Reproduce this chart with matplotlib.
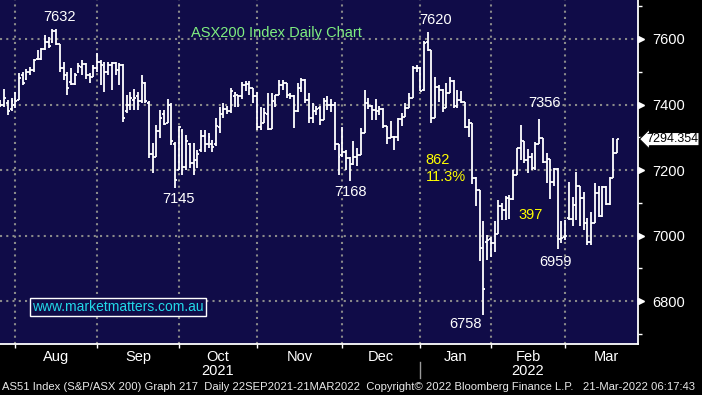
import matplotlib
matplotlib.use('Agg')
import matplotlib.pyplot as plt
from matplotlib import transforms

plt.rcParams['font.family'] = ['Liberation Sans', 'DejaVu Sans']

# daily OHLC, ASX200
opens = [7410, 7400, 7405, 7385, 7400, 7414, 7490, 7478, 7500, 7505,
         7540, 7540, 7570, 7590, 7590, 7625, 7585, 7510, 7490, 7470,
         7462, 7500, 7515, 7525, 7490, 7485, 7510, 7530, 7515, 7500,
         7520, 7527, 7505, 7520, 7380, 7400, 7415, 7425, 7410, 7465,
         7405, 7250, 7240, 7320, 7370, 7345, 7400, 7280, 7200, 7320,
         7210, 7280, 7220, 7230, 7260, 7305, 7280, 7280, 7280, 7330,
         7370, 7385, 7380, 7425, 7430, 7425, 7460, 7462, 7450, 7425,
         7330, 7345, 7370, 7325, 7405, 7430, 7460, 7465, 7430, 7425,
         7380, 7450, 7475, 7415, 7360, 7380, 7390, 7353, 7411, 7400,
         7399, 7280, 7245, 7256, 7238, 7219, 7241, 7246, 7312, 7406,
         7395, 7383, 7381, 7385, 7335, 7297, 7300, 7300, 7355, 7363,
         7389, 7420, 7511, 7511, 7444, 7590, 7566, 7358, 7453, 7444,
         7388, 7436, 7473, 7396, 7414, 7409, 7330, 7343, 7175, 7139,
         6961, 6980, 6990, 6977, 7005, 7089, 7078, 7114, 7111, 7185,
         7266, 7290, 7230, 7241, 7205, 7280, 7297, 7225, 7233, 7162,
         7202, 6990, 6995, 7055, 7050, 7094, 7150, 7115, 7038, 6980,
         7038, 7130, 7060, 7148, 7097, 7175, 7251]
highs = [7414, 7447, 7414, 7420, 7438, 7496, 7500, 7508, 7515, 7540,
         7566, 7572, 7612, 7606, 7632, 7630, 7585, 7530, 7500, 7512,
         7496, 7527, 7536, 7527, 7496, 7520, 7557, 7536, 7530, 7530,
         7530, 7530, 7527, 7525, 7430, 7438, 7447, 7438, 7490, 7470,
         7410, 7283, 7338, 7383, 7383, 7417, 7405, 7285, 7335, 7325,
         7307, 7283, 7283, 7262, 7322, 7322, 7313, 7292, 7360, 7393,
         7405, 7395, 7450, 7438, 7430, 7470, 7472, 7472, 7450, 7438,
         7393, 7390, 7435, 7435, 7430, 7475, 7475, 7466, 7435, 7430,
         7466, 7480, 7478, 7435, 7405, 7396, 7396, 7419, 7426, 7416,
         7409, 7280, 7331, 7261, 7241, 7289, 7268, 7328, 7444, 7421,
         7399, 7416, 7394, 7388, 7335, 7351, 7304, 7358, 7373, 7404,
         7436, 7518, 7521, 7514, 7595, 7620, 7566, 7483, 7460, 7446,
         7467, 7485, 7475, 7444, 7442, 7409, 7355, 7343, 7178, 7139,
         7043, 7002, 6997, 7043, 7109, 7099, 7121, 7124, 7200, 7266,
         7338, 7290, 7263, 7251, 7285, 7356, 7297, 7251, 7233, 7205,
         7205, 7043, 7048, 7162, 7119, 7195, 7152, 7134, 7053, 7073,
         7160, 7152, 7150, 7150, 7180, 7297, 7296]
lows = [7393, 7393, 7368, 7380, 7390, 7414, 7460, 7475, 7490, 7500,
        7536, 7536, 7566, 7572, 7588, 7582, 7500, 7475, 7430, 7460,
        7460, 7496, 7490, 7478, 7466, 7484, 7500, 7460, 7438, 7490,
        7445, 7490, 7460, 7347, 7374, 7383, 7383, 7383, 7405, 7405,
        7237, 7191, 7240, 7298, 7338, 7344, 7277, 7145, 7200, 7185,
        7200, 7206, 7185, 7206, 7255, 7255, 7268, 7255, 7274, 7313,
        7360, 7372, 7374, 7393, 7393, 7417, 7440, 7430, 7405, 7322,
        7322, 7344, 7322, 7325, 7393, 7430, 7444, 7420, 7417, 7328,
        7378, 7438, 7405, 7344, 7344, 7368, 7338, 7353, 7383, 7378,
        7261, 7185, 7241, 7200, 7168, 7214, 7211, 7246, 7312, 7386,
        7353, 7353, 7368, 7328, 7279, 7297, 7261, 7290, 7335, 7363,
        7389, 7420, 7500, 7442, 7442, 7564, 7343, 7358, 7409, 7378,
        7388, 7434, 7388, 7388, 7404, 7327, 7300, 7158, 7089, 6921,
        6758, 6926, 6936, 6951, 7005, 7048, 7046, 7050, 7109, 7185,
        7230, 7221, 7190, 7200, 7200, 7278, 7221, 7160, 7111, 7150,
        6959, 6977, 6987, 7048, 7028, 7048, 7028, 7017, 6972, 6972,
        7038, 7058, 7058, 7094, 7094, 7175, 7251]
closes = [7400, 7420, 7380, 7410, 7412, 7480, 7465, 7500, 7505, 7535,
          7540, 7570, 7590, 7580, 7625, 7585, 7510, 7490, 7450, 7462,
          7490, 7518, 7525, 7490, 7485, 7510, 7530, 7520, 7500, 7520,
          7527, 7505, 7520, 7360, 7400, 7420, 7420, 7410, 7470, 7410,
          7250, 7240, 7320, 7360, 7340, 7400, 7290, 7170, 7330, 7210,
          7290, 7220, 7230, 7250, 7305, 7280, 7300, 7270, 7335, 7370,
          7385, 7380, 7440, 7435, 7425, 7460, 7462, 7450, 7425, 7330,
          7325, 7375, 7325, 7410, 7428, 7460, 7465, 7430, 7425, 7380,
          7450, 7475, 7415, 7360, 7380, 7385, 7353, 7411, 7400, 7399,
          7280, 7241, 7256, 7238, 7219, 7241, 7246, 7312, 7406, 7395,
          7383, 7381, 7385, 7335, 7297, 7300, 7300, 7355, 7363, 7389,
          7420, 7511, 7511, 7442, 7588, 7566, 7358, 7453, 7444, 7388,
          7436, 7473, 7396, 7414, 7409, 7330, 7343, 7175, 7139, 6961,
          6836, 6987, 6977, 7005, 7089, 7078, 7114, 7111, 7185, 7266,
          7292, 7230, 7241, 7205, 7280, 7297, 7225, 7233, 7162, 7202,
          6990, 6992, 7000, 7050, 7094, 7150, 7115, 7038, 6980, 7038,
          7130, 7060, 7148, 7097, 7175, 7251, 7294.354]

# bar index where each month starts
month_start = [4, 26, 48, 69, 92, 113, 132, 152]
month_names = ['Aug', 'Sep', 'Oct', 'Nov', 'Dec', 'Jan', 'Feb', 'Mar']
yticks = [6800, 7000, 7200, 7400, 7600]
last_price = 7294.354

navy = '#100c48'
fig = plt.figure(figsize=(7.02, 3.95), dpi=100, facecolor='black')
ax = fig.add_axes([0, 51 / 395, 638 / 702, 344 / 395])
ax.set_facecolor(navy)

x = list(range(len(opens)))
# grid first
for m in month_start:
    ax.axvline(m, color='#8a8a8a', lw=1.5, ls=(0, (1, 2.0)), zorder=1)
for t in yticks:
    ax.axhline(t, color='#8a8a8a', lw=1.5, ls=(0, (1, 2.0)), zorder=1)

# OHLC bars
w = 0.5
ax.vlines(x, lows, highs, color='white', lw=1.3, zorder=3)
ax.hlines(opens, [i - w for i in x], x, color='white', lw=1.3, zorder=3)
ax.hlines(closes, x, [i + w for i in x], color='white', lw=1.3, zorder=3)

ax.set_xlim(-0.12, 171.6)
ax.set_ylim(6669, 7719)

for s in ['left', 'top']:
    ax.spines[s].set_visible(False)
ax.spines['right'].set_color('white')
ax.spines['bottom'].set_color('white')
ax.spines['right'].set_linewidth(1.3)
ax.spines['bottom'].set_linewidth(1.3)

# y axis on the right
ax.yaxis.tick_right()
ax.set_yticks(yticks)
ax.set_yticklabels([str(t) for t in yticks])
ax.set_yticks([6700, 6900, 7100, 7300, 7500, 7700], minor=True)
ax.tick_params(axis='y', which='major', length=0, pad=10, labelsize=10.5,
               labelcolor='white')
ax.tick_params(axis='y', which='minor', length=3, width=1, color='white')
tr = transforms.blended_transform_factory(ax.transAxes, ax.transData)
ax.plot([1.004] * len(yticks), yticks, ls='none', marker='>', ms=5,
        color='white', transform=tr, clip_on=False, zorder=5)

# x axis, month labels between month starts
ax.set_xticks(month_start)
ax.set_xticklabels([])
mids = []
for i in range(len(month_start)):
    if i + 1 < len(month_start):
        mids.append((month_start[i] + month_start[i + 1]) / 2)
    else:
        mids.append(month_start[i] + 11)
ax.set_xticks(mids, minor=True)
ax.set_xticklabels(month_names, minor=True)
ax.tick_params(axis='x', which='major', length=3, width=1, color='white', direction='out')
ax.tick_params(axis='x', which='minor', length=0, pad=4, labelsize=10.5,
               labelcolor='white')

trx = transforms.blended_transform_factory(ax.transData, ax.transAxes)
ax.text(mids[2], -0.078, '2021', transform=trx, color='white', fontsize=10.5,
        ha='center', va='center')
ax.text(mids[6], -0.078, '2022', transform=trx, color='white', fontsize=10.5,
        ha='center', va='center')
ax.plot([month_start[5], month_start[5]], [-0.052, -0.1], transform=trx,
        color='#9a9a9a', lw=1, clip_on=False)

# last price tag
ax.text(1.013, last_price, '%.3f' % last_price, transform=tr, fontsize=9.0,
        color='black', ha='left', va='center',
        bbox=dict(boxstyle='larrow,pad=0.05', fc='white', ec='black', lw=0.8))

# annotations
lab = dict(color='white', fontsize=10.5, ha='center', va='center')
ax.text(16.0, 7667, '7632', **lab)
ax.text(47.8, 7111, '7145', **lab)
ax.text(117.2, 7658, '7620', **lab)
ax.text(94.3, 7133, '7168', **lab)
ax.text(146.5, 7405, '7356', **lab)
ax.text(149.5, 6919, '6959', **lab)
ax.text(125.3, 6730, '6758', **lab)

ax.text(114.5, 7231, '862', color='yellow', fontsize=10.5, ha='left', va='center')
ax.text(114.5, 7179, '11.3%', color='yellow', fontsize=10.5, ha='left', va='center')
ax.text(142.8, 7063, '397', color='yellow', fontsize=10.5, ha='center', va='center')

ax.text(74.4, 7618, 'ASX200 Index Daily Chart', color='#80f080', fontsize=10.5,
        ha='center', va='center')

ax.text(0.185, 0.107, 'www.marketmatters.com.au', transform=ax.transAxes,
        color='#22d8e8', fontsize=10, ha='center', va='center',
        bbox=dict(boxstyle='square,pad=0.15', fc=navy, ec='white', lw=1))

fig.text(0.003, 0.02, 'AS51 Index (S&P/ASX 200) Graph 217  Daily 22SEP2021-21MAR2022  '
         'Copyright\u00a9 2022 Bloomberg Finance L.P.   21-Mar-2022 06:17:43',
         color='#e8e8e8', fontsize=8.15, ha='left', va='center')

fig.savefig('out.png', dpi=100, facecolor='black')
